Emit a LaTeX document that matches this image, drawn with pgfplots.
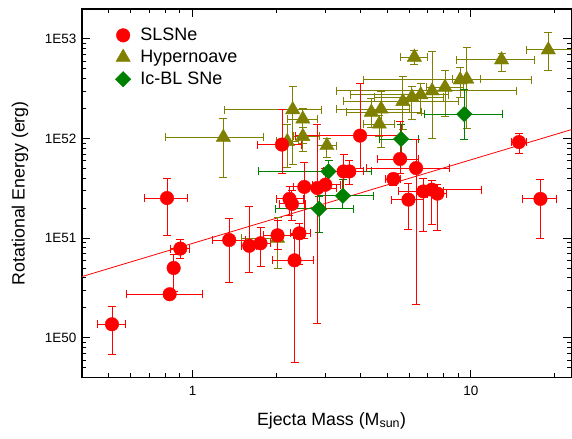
\documentclass[border=0pt]{standalone}
\usepackage{pgfplots}
\pgfplotsset{compat=1.18}
\usepackage{fontspec}
\setmainfont{Liberation Sans}
\definecolor{slred}{RGB}{255,0,0}
\definecolor{hnolive}{RGB}{128,128,0}
\definecolor{icgreen}{RGB}{0,128,0}
\newcommand{\lf}{\fontsize{18}{21}\selectfont\hspace*{8pt}}
\begin{document}
\begin{tikzpicture}
\begin{axis}[
  scale only axis, width=490pt, height=369pt,
  xmode=log, ymode=log,
  xmin=0.4, xmax=23, ymin=4e49, ymax=2e53,
  xtick={1,10}, xticklabels={1,10},
  ytick={1e50,1e51,1e52,1e53}, yticklabels={1E50,1E51,1E52,1E53},
  minor xtick={0.5,0.6,0.7,0.8,0.9,2,3,4,5,6,7,8,9,20},
  minor ytick={5e49,6e49,7e49,8e49,9e49,2e50,3e50,4e50,5e50,6e50,7e50,8e50,9e50,2e51,3e51,4e51,5e51,6e51,7e51,8e51,9e51,2e52,3e52,4e52,5e52,6e52,7e52,8e52,9e52},
  tick align=inside,
  major tick length=8pt, minor tick length=4.5pt,
  every tick/.style={black, line width=0.9pt},
  axis line style={line width=1.3pt},
  tick label style={font=\fontsize{13.5}{16}\selectfont},
  xticklabel style={yshift=-5pt},
  yticklabel style={xshift=-2pt},
  label style={font=\fontsize{17.8}{21}\selectfont},
  xlabel={Ejecta Mass (M\textsubscript{sun})},
  ylabel={Rotational Energy (erg)},
  xlabel style={at={(axis description cs:0.51,-0.1165)}, anchor=center},
  ylabel style={at={(axis description cs:-0.1265,0.5)}, anchor=center},
  legend style={at={(axis description cs:0.068,0.952)}, anchor=north west, draw=none, fill=none,
    inner sep=0pt, row sep=5pt, nodes={inner sep=1.5pt}},
  legend cell align=left,
  error bars/error mark options={rotate=90, mark size=4pt, line width=0.9pt},
]
\addlegendimage{only marks, mark=*, mark size=6.8pt, slred, mark options={fill=slred}}
\addlegendentry{\lf SLSNe}
\addlegendimage{only marks, mark=triangle*, mark size=8.3pt, hnolive, mark options={fill=hnolive}}
\addlegendentry{\lf Hypernoave}
\addlegendimage{only marks, mark=square*, mark size=5.5pt, icgreen, mark options={fill=icgreen, rotate=45}}
\addlegendentry{\lf Ic-BL SNe}

% fit line
\addplot[slred, line width=0.8pt, forget plot] coordinates {(0.4,4.12e50) (23,1.23e52)};

% Hypernovae
\addplot[forget plot, only marks, mark=triangle*, mark size=8.3pt, hnolive,
  mark options={fill=hnolive, line width=0.4pt},
  error bars/.cd, x dir=both, x explicit, y dir=both, y explicit,
  error bar style={line width=0.9pt, hnolive}]
 table[x=x, y=y,
  x error plus expr=\thisrow{xhi}-\thisrow{x}, x error minus expr=\thisrow{x}-\thisrow{xlo},
  y error plus expr=\thisrow{yhi}-\thisrow{y}, y error minus expr=\thisrow{y}-\thisrow{ylo}] {
x y xlo xhi ylo yhi
1.29 1.03e52 0.80 1.80 4.07e51 1.6e52
2.29 1.95e52 1.30 2.9 5.5e51 3.37e52
2.49 1.57e52 2.2 2.8 9.0e51 2.0e52
2.19 9.35e51 2.0 2.4 5.1e51 1.4e52
2.49 1.05e52 2.3 2.85 7.5e51 1.3e52
3.04 8.5e51 2.8 3.3 6.5e51 1.0e52
2.02 1.0e51 1.5 2.1 5.0e50 1.6e51
4.39 1.84e52 3.58 6.66 1.3e52 2.5e52
4.69 1.40e52 4.1 5.3 1.05e52 1.7e52
4.76 1.98e52 3.3 6.0 8.1e51 2.97e52
5.70 2.36e52 3.5 9.0 1.23e52 4.2e52
6.14 2.61e52 4.5 8.0 1.55e52 3.33e52
6.27 6.56e52 5.6 7.0 5.5e52 7.6e52
6.61 2.75e52 3.7 8.3 1.8e52 3.6e52
7.26 3.01e52 3.28 14.6 1.0e52 7.4e52
8.08 3.28e52 6.9 9.4 1.65e52 4.8e52
9.16 3.88e52 4.1 16.5 2.6e52 5.2e52
9.67 3.95e52 8.6 10.8 1.26e52 8.2e52
12.9 6.16e52 8.9 16.9 4.7e52 7.2e52
19.0 7.76e52 15.8 25 4.78e52 1.16e53
};

% Ic-BL SNe
\addplot[forget plot, only marks, mark=square*, mark size=5.5pt, icgreen,
  mark options={fill=icgreen, line width=0.4pt, rotate=45},
  error bars/.cd, x dir=both, x explicit, y dir=both, y explicit,
  error bar style={line width=0.9pt, icgreen}]
 table[x=x, y=y,
  x error plus expr=\thisrow{xhi}-\thisrow{x}, x error minus expr=\thisrow{x}-\thisrow{xlo},
  y error plus expr=\thisrow{yhi}-\thisrow{y}, y error minus expr=\thisrow{y}-\thisrow{ylo}] {
x y xlo xhi ylo yhi
3.08 4.68e51 1.72 4.4 3.5e51 6.0e51
3.47 2.67e51 2.8 4.47 2.0e51 3.9e51
2.85 1.97e51 1.98 3.8 1.13e51 2.6e51
5.62 9.9e51 4.7 6.5 7.0e51 1.4e52
9.48 1.76e52 6.8 13.0 9.8e51 3.1e52
};

% SLSNe
\addplot[forget plot, only marks, mark=*, mark size=6.8pt, slred,
  mark options={fill=slred, line width=0.4pt},
  error bars/.cd, x dir=both, x explicit, y dir=both, y explicit,
  error bar style={line width=0.9pt, slred}]
 table[x=x, y=y,
  x error plus expr=\thisrow{xhi}-\thisrow{x}, x error minus expr=\thisrow{x}-\thisrow{xlo},
  y error plus expr=\thisrow{yhi}-\thisrow{y}, y error minus expr=\thisrow{y}-\thisrow{ylo}] {
x y xlo xhi ylo yhi
0.513 1.37e50 0.454 0.573 6.8e49 2.08e50
0.809 2.53e51 0.671 0.955 1.07e51 4.0e51
0.827 2.74e50 0.576 1.087 2.6e50 2.9e50
0.855 5.03e50 0.84 0.87 2.9e50 6.9e50
0.903 7.87e50 0.832 0.975 6.2e50 9.7e50
1.354 9.6e50 1.18 1.546 3.57e50 1.57e51
1.598 8.4e50 1.50 1.70 4.5e50 2.09e51
1.755 8.9e50 1.62 1.9 5.2e50 1.28e51
2.02 1.07e51 1.8 2.3 7.7e50 1.5e51
2.325 6.0e50 1.93 2.72 5.7e49 1.1e51
2.42 1.12e51 2.25 2.65 5.4e50 1.4e51
2.095 8.7e51 1.71 2.47 4.5e51 1.95e52
2.23 2.48e51 2.0 2.5 1.7e51 3.3e51
2.275 2.21e51 2.05 2.55 1.5e51 3.0e51
2.52 3.27e51 2.3 2.8 1.0e51 5.7e51
2.81 3.19e51 2.55 3.3 1.4e50 1.4e52
3.0 3.44e51 2.7 3.4 2.0e51 5.0e51
3.49 4.68e51 2.95 4.1 2.5e51 6.9e51
3.66 4.68e51 3.35 4.1 3.5e51 6.0e51
4.0 1.07e52 2.34 5.57 5.0e51 3.54e52
5.57 6.24e51 4.6 6.5 4.5e51 1.49e52
6.36 5.06e51 4.2 8.4 2.15e50 9.8e51
5.27 3.93e51 4.95 5.6 3.4e51 4.5e51
5.97 2.44e51 5.2 6.76 1.22e51 3.58e51
6.76 2.95e51 5.5 8.0 1.17e51 4.0e51
7.24 3.07e51 6.5 10.9 1.38e51 3.8e51
7.59 2.8e51 7.0 8.2 1.2e51 3.5e51
14.9 9.23e51 14.0 15.9 7.17e51 1.12e52
17.8 2.48e51 15.3 20.4 1.0e51 3.93e51
};
\end{axis}
\pgfresetboundingbox
\path[use as bounding box] ([shift={(-82pt,-61pt)}]current axis.south west) rectangle ([shift={(0.6pt,9pt)}]current axis.north east);
\end{tikzpicture}
\end{document}
